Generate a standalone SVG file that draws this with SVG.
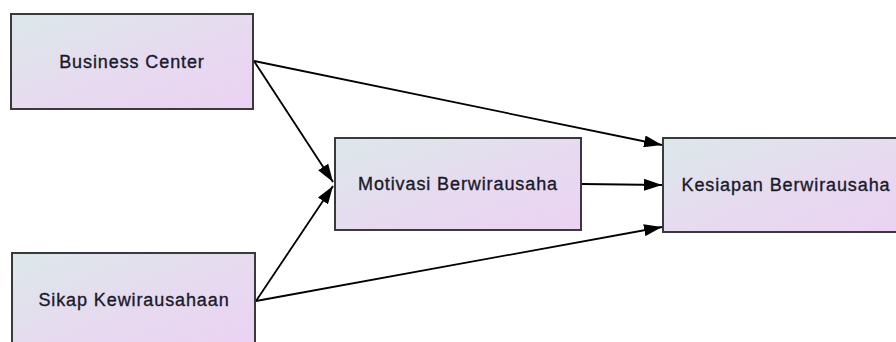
<svg xmlns="http://www.w3.org/2000/svg" width="896" height="342" viewBox="0 0 896 342">
<defs>
<linearGradient id="g" x1="0" y1="0" x2="1" y2="1">
<stop offset="0" stop-color="#dce8ea"/>
<stop offset="0.55" stop-color="#e7daf0"/>
<stop offset="1" stop-color="#ebd2f3"/>
</linearGradient>
<marker id="arr" viewBox="0 0 18 12" refX="18" refY="6" markerWidth="18" markerHeight="12" markerUnits="userSpaceOnUse" orient="auto">
<path d="M0,0 L18,6 L0,12 Z" fill="#000"/>
</marker>
<style>
.box{fill:url(#g);stroke:#3a3a3a;stroke-width:2}
.lbl{font-family:"Liberation Sans",Arial,sans-serif;font-size:18px;letter-spacing:0.9px;fill:#1a1a2a;stroke:#1a1a2a;stroke-width:0.35;text-anchor:middle}
.edge{stroke:#000;stroke-width:1.8;fill:none;marker-end:url(#arr)}
</style>
</defs>
<g id="connectors">
<line class="edge" x1="254" y1="61" x2="662" y2="145"/>
<line class="edge" x1="254" y1="61" x2="333" y2="182"/>
<line class="edge" x1="582" y1="184" x2="662" y2="185"/>
<line class="edge" x1="256" y1="301" x2="333" y2="186"/>
<line class="edge" x1="256" y1="301" x2="662" y2="227"/>
</g>
<g id="business-center">
<rect class="box" x="11" y="14" width="242" height="95"/>
<text class="lbl" x="132" y="68">Business Center</text>
</g>
<g id="sikap-kewirausahaan">
<rect class="box" x="12" y="253" width="243" height="95"/>
<text class="lbl" x="134" y="306">Sikap Kewirausahaan</text>
</g>
<g id="motivasi-berwirausaha">
<rect class="box" x="335" y="138" width="246" height="92"/>
<text class="lbl" x="458" y="190">Motivasi Berwirausaha</text>
</g>
<g id="kesiapan-berwirausaha">
<rect class="box" x="663" y="138" width="246" height="94"/>
<text class="lbl" x="786" y="191">Kesiapan Berwirausaha</text>
</g>
</svg>
